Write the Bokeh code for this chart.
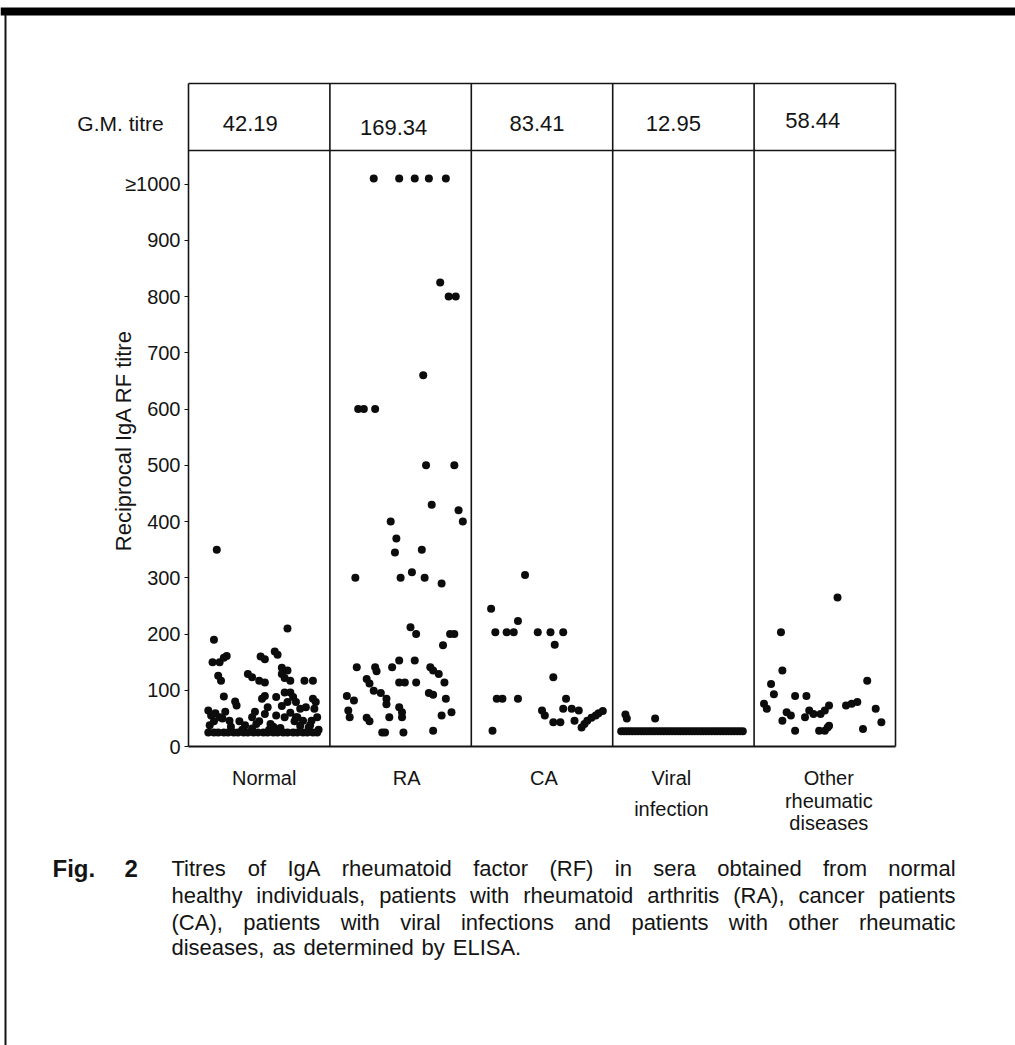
import math
from bokeh.plotting import figure
from bokeh.models import Range1d, LinearAxis, FixedTicker, ColumnDataSource
from bokeh.core.properties import value
from bokeh.embed import file_html
from bokeh.resources import INLINE

# ---------------- data ----------------
categories = ["Normal", "RA", "CA", "Viral infection", "Other rheumatic diseases"]
category_lines = [["Normal"], ["RA"], ["CA"], ["Viral", "infection"],
                  ["Other", "rheumatic", "diseases"]]
gm_label = "G.M. titre"
gm_titre = ["42.19", "169.34", "83.41", "12.95", "58.44"]
y_ticks = [0, 100, 200, 300, 400, 500, 600, 700, 800, 900, 1000]
y_top_label = "\u22651000"
y_title = "Reciprocal IgA RF titre"

# position of each point inside its column (0..1) and its titre
normal_pos = [0.20, 0.18, 0.70, 0.17, 0.22, 0.25, 0.27, 0.21, 0.23, 0.25,
              0.33, 0.34, 0.14, 0.16, 0.19, 0.22, 0.26, 0.29, 0.18, 0.24,
              0.42, 0.45, 0.50, 0.54, 0.51, 0.54, 0.61, 0.63, 0.54, 0.52,
              0.36, 0.40, 0.45, 0.50, 0.54, 0.58, 0.66, 0.70, 0.66, 0.72,
              0.68, 0.62, 0.68, 0.72, 0.74, 0.70, 0.66, 0.76, 0.62, 0.68,
              0.72, 0.76, 0.82, 0.88, 0.88, 0.90, 0.79, 0.83, 0.89, 0.77,
              0.81, 0.87, 0.91, 0.79, 0.85, 0.30, 0.45, 0.60, 0.65, 0.15,
              0.38, 0.48, 0.57, 0.75, 0.86, 0.92, 0.56, 0.47,
              0.14, 0.18, 0.21, 0.25, 0.28, 0.32, 0.35, 0.39, 0.42, 0.46,
              0.49, 0.53, 0.56, 0.60, 0.63, 0.67, 0.70, 0.74, 0.77, 0.81,
              0.84, 0.88, 0.91]
normal_val = [350, 190, 210, 150, 150, 158, 161, 126, 117, 89,
              80, 73, 64, 55, 59, 52, 62, 46, 45, 50,
              129, 123, 117, 114, 160, 155, 169, 163, 90, 85,
              45, 38, 52, 45, 58, 40, 140, 135, 129, 117,
              122, 88, 96, 96, 88, 79, 72, 79, 55, 52,
              60, 52, 117, 117, 85, 79, 67, 70, 67, 52,
              46, 46, 52, 37, 34, 35, 32, 35, 33, 38,
              30, 40, 30, 45, 38, 30, 70, 62,
              25, 25, 25, 25, 25, 25, 25, 25, 25, 25,
              25, 25, 25, 25, 25, 25, 25, 25, 25, 25,
              25, 25, 25]

ra_pos = [0.31, 0.49, 0.60, 0.70, 0.82, 0.78, 0.84, 0.89, 0.66, 0.20,
          0.24, 0.32, 0.68, 0.88, 0.72, 0.91, 0.94, 0.43, 0.47, 0.46,
          0.65, 0.18, 0.50, 0.67, 0.58, 0.79, 0.57, 0.61, 0.85, 0.88,
          0.80, 0.19, 0.26, 0.28, 0.12, 0.17, 0.13, 0.14, 0.32, 0.33,
          0.31, 0.36, 0.40, 0.40, 0.26, 0.28, 0.37, 0.39, 0.42, 0.44,
          0.49, 0.49, 0.53, 0.61, 0.60, 0.49, 0.51, 0.51, 0.52, 0.73,
          0.71, 0.73, 0.77, 0.81, 0.82, 0.86, 0.79, 0.70, 0.73]
ra_val = [1010, 1010, 1010, 1010, 1010, 825, 800, 800, 660, 600,
          600, 600, 500, 500, 430, 420, 400, 400, 370, 345,
          350, 300, 300, 300, 310, 290, 212, 200, 200, 200,
          180, 141, 120, 112, 90, 82, 64, 52, 141, 134,
          99, 95, 85, 75, 51, 45, 25, 25, 52, 141,
          153, 114, 114, 114, 153, 70, 61, 52, 25, 28,
          141, 135, 129, 114, 85, 61, 55, 95, 92]

ca_pos = [0.38, 0.14, 0.33, 0.17, 0.25, 0.30, 0.47, 0.56, 0.65, 0.59,
          0.15, 0.18, 0.22, 0.33, 0.58, 0.50, 0.52, 0.58, 0.63, 0.67,
          0.65, 0.71, 0.76, 0.73, 0.78, 0.80, 0.82, 0.85, 0.88, 0.90,
          0.93]
ca_val = [305, 245, 223, 203, 203, 203, 203, 203, 203, 181,
          28, 85, 85, 85, 123, 64, 55, 43, 43, 85,
          67, 67, 64, 46, 34, 40, 46, 51, 55, 59,
          63]

viral_pos = [0.09, 0.10, 0.30,
             0.06, 0.08, 0.10, 0.12, 0.14, 0.16, 0.18, 0.20, 0.22, 0.24,
             0.26, 0.28, 0.30, 0.32, 0.34, 0.36, 0.38, 0.40, 0.42, 0.44,
             0.46, 0.48, 0.50, 0.52, 0.54, 0.56, 0.58, 0.60, 0.62, 0.64,
             0.66, 0.68, 0.70, 0.72, 0.74, 0.76, 0.78, 0.80, 0.82, 0.84,
             0.86, 0.88, 0.90, 0.92]
viral_val = [57, 50, 50,
             27, 27, 27, 27, 27, 27, 27, 27, 27, 27,
             27, 27, 27, 27, 27, 27, 27, 27, 27, 27,
             27, 27, 27, 27, 27, 27, 27, 27, 27, 27,
             27, 27, 27, 27, 27, 27, 27, 27, 27, 27,
             27, 27, 27, 27]

other_pos = [0.59, 0.19, 0.20, 0.12, 0.14, 0.07, 0.09, 0.29, 0.37, 0.23,
             0.26, 0.20, 0.29, 0.36, 0.39, 0.42, 0.47, 0.50, 0.53, 0.46,
             0.50, 0.52, 0.53, 0.65, 0.69, 0.73, 0.80, 0.77, 0.86, 0.90]
other_val = [265, 203, 135, 111, 93, 76, 67, 90, 90, 61,
             55, 46, 28, 52, 64, 58, 58, 64, 73, 28,
             28, 34, 37, 73, 76, 79, 117, 31, 67, 43]

group_pos = [normal_pos, ra_pos, ca_pos, viral_pos, other_pos]
group_val = [normal_val, ra_val, ca_val, viral_val, other_val]

caption_head = ["Fig.", "2"]
caption_lines = [
    "Titres of IgA rheumatoid factor (RF) in sera obtained from normal",
    "healthy individuals, patients with rheumatoid arthritis (RA), cancer patients",
    "(CA), patients with viral infections and patients with other rheumatic",
    "diseases, as determined by ELISA.",
]

# ---------------- layout (canvas pixels) ----------------
W, H = 1015, 1045
PX_LEFT, PX_RIGHT = 188, 895
PX_ZERO = 746
PX_PER_UNIT = 0.5625
TABLE_TOP, TABLE_BOTTOM = 83, 150
COLW = (PX_RIGHT - PX_LEFT) / len(categories)
FONT = "Liberation Sans"
INK = "#141414"


def dx(px):
    return (px - PX_LEFT) / COLW


def dy(py):
    return (PX_ZERO - py) / PX_PER_UNIT


p = figure(width=W, height=H,
           x_range=Range1d(dx(0), dx(W)),
           y_range=Range1d(dy(H), dy(0)),
           x_axis_type=None, y_axis_type=None,
           output_backend="svg", toolbar_location=None,
           min_border=0, min_border_left=0, min_border_right=0,
           min_border_top=0, min_border_bottom=0)
p.outline_line_color = None
p.background_fill_color = "white"
p.border_fill_color = "white"

# page frame: thick bar on top and thin rule on the left
p.quad(left=[dx(0)], right=[dx(W)], top=[dy(7)], bottom=[dy(15)],
       fill_color="black", line_color=None)
p.segment(x0=[dx(5)], y0=[dy(14)], x1=[dx(5)], y1=[dy(H)],
          line_color=INK, line_width=2)

# table / column grid
ncat = len(categories)
edges = list(range(ncat + 1))
p.segment(x0=edges, y0=[dy(TABLE_TOP)] * len(edges), x1=edges, y1=[0] * len(edges),
          line_color=INK, line_width=1.6)
p.segment(x0=[0, 0], y0=[dy(TABLE_TOP), dy(TABLE_BOTTOM)],
          x1=[ncat, ncat], y1=[dy(TABLE_TOP), dy(TABLE_BOTTOM)],
          line_color=INK, line_width=1.6)
p.segment(x0=[0], y0=[0], x1=[ncat], y1=[0], line_color=INK, line_width=2.2)

# G.M. titre row
centers = [i + 0.5 for i in range(ncat)]
gm_shift = [-9, -7, -5, -10, -12]
gm_dy = [123, 127, 123, 123, 120]
p.text(x=[c + s / COLW for c, s in zip(centers, gm_shift)], y=[dy(v) for v in gm_dy],
       text=gm_titre,
       text_font=value(FONT), text_font_size=value("22px"), text_color=INK,
       text_align="center", text_baseline="middle")
p.text(x=[dx(120)], y=[dy(123)], text=[gm_label],
       text_font=value(FONT), text_font_size=value("21px"), text_color=INK,
       text_align="center", text_baseline="middle")

# points
xs, ys = [], []
for i, (pos, val) in enumerate(zip(group_pos, group_val)):
    xs += [i + u for u in pos]
    ys += list(val)
src = ColumnDataSource(dict(x=xs, y=ys))
p.scatter("x", "y", source=src, marker="circle", size=8,
          fill_color="#0c0c0c", line_color=None)

# y axis
yax = LinearAxis(fixed_location=0, ticker=FixedTicker(ticks=y_ticks),
                 major_label_overrides={1000: y_top_label})
yax.axis_line_color = None
yax.major_tick_line_color = INK
yax.major_tick_out = 4
yax.major_tick_in = 0
yax.minor_tick_line_color = None
yax.major_label_standoff = 4
yax.major_label_text_font = FONT
yax.major_label_text_font_size = "20px"
yax.major_label_text_color = INK
p.add_layout(yax, "left")

p.text(x=[dx(123)], y=[dy(440)], text=[y_title], angle=math.pi / 2,
       text_font=value(FONT), text_font_size=value("22px"), text_color=INK,
       text_align="center", text_baseline="middle")

# category labels
label_shift = [5, 6, 2, -12, 4]
line_y = {1: [777], 2: [777, 808], 3: [777, 800, 822]}
lx, ly, lt = [], [], []
for i, lines in enumerate(category_lines):
    for txt, yy in zip(lines, line_y[len(lines)]):
        lx.append(centers[i] + label_shift[i] / COLW)
        ly.append(dy(yy))
        lt.append(txt)
p.text(x=lx, y=ly, text=lt, text_font=value(FONT), text_font_size=value("20px"),
       text_color=INK, text_align="center", text_baseline="middle")

# caption, justified word by word
AW = {'a': 556, 'b': 556, 'c': 500, 'd': 556, 'e': 556, 'f': 278, 'g': 556, 'h': 556,
      'i': 222, 'j': 222, 'k': 500, 'l': 222, 'm': 833, 'n': 556, 'o': 556, 'p': 556,
      'q': 556, 'r': 333, 's': 500, 't': 278, 'u': 556, 'v': 500, 'w': 722, 'x': 500,
      'y': 500, 'z': 500, 'A': 667, 'C': 722, 'E': 667, 'F': 611, 'I': 278, 'L': 556,
      'R': 722, 'S': 667, 'T': 611, '(': 333, ')': 333, ',': 278, '.': 278, ' ': 278}
CAP_SIZE = 22


def width(s):
    return sum(AW.get(ch, 556) for ch in s) * CAP_SIZE / 1000.0


CAP_HEAD_X = [52, 124]
CAP_X0, CAP_X1 = 171, 955
cap_y = [868, 895, 922, 947]
wx, wy, wt = [], [], []
for k, line in enumerate(caption_lines):
    words = line.split(" ")
    total = sum(width(w) for w in words)
    if k < len(caption_lines) - 1:
        gap = (CAP_X1 - CAP_X0 - total) / (len(words) - 1)
    else:
        gap = width(" ") * 1.3
    x = CAP_X0
    for w in words:
        wx.append(dx(x))
        wy.append(dy(cap_y[k]))
        wt.append(w)
        x += width(w) + gap
p.text(x=wx, y=wy, text=wt, text_font=value(FONT), text_font_size=value("%dpx" % CAP_SIZE),
       text_color=INK, text_align="left", text_baseline="middle")
p.text(x=[dx(v) for v in CAP_HEAD_X], y=[dy(cap_y[0])] * 2, text=caption_head,
       text_font=value(FONT),
       text_font_size=value("24px"), text_font_style="bold",
       text_color=INK, text_align="left", text_baseline="middle")

open("out.html", "w").write(file_html(p, INLINE))
